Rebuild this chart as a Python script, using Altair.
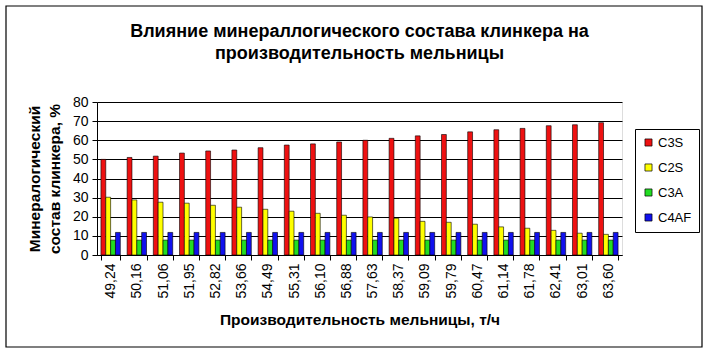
import altair as alt
import pandas as pd

productivity = ["49,24", "50,16", "51,06", "51,95", "52,82", "53,66", "54,49",
                "55,31", "56,10", "56,88", "57,63", "58,37", "59,09", "59,79",
                "60,47", "61,14", "61,78", "62,41", "63,01", "63,60"]
c3s = [50.0, 51.0, 51.7, 53.3, 54.4, 54.9, 56.1, 57.5, 58.1, 59.1,
       60.0, 61.0, 62.3, 63.0, 64.4, 65.5, 66.2, 67.6, 68.1, 69.2]
c2s = [30.2, 28.8, 27.6, 27.1, 26.0, 25.0, 23.9, 22.9, 21.8, 20.8,
       19.9, 19.2, 17.6, 17.1, 16.1, 14.7, 14.0, 12.9, 11.4, 10.8]
c3a = [7.8] * 20
c4af = [11.8] * 20
series = ["C3S", "C2S", "C3A", "C4AF"]
colors = ["#ee1111", "#ffff00", "#22dd22", "#1111ee"]

rows = []
for i, p in enumerate(productivity):
    for name, vals in zip(series, [c3s, c2s, c3a, c4af]):
        rows.append({"prod": p, "series": name, "value": vals[i]})
df = pd.DataFrame(rows)

FONT = "Liberation Sans"
PL, PT, W, H = 97, 102, 525, 153

bars = alt.Chart(df).mark_bar(stroke="black", strokeWidth=0.6).encode(
    x=alt.X("prod:N", sort=productivity,
            scale=alt.Scale(paddingInner=0.26, paddingOuter=0.15),
            axis=alt.Axis(title="Производительность мельницы, т/ч",
                          labelAngle=-90, labelFont=FONT, labelFontSize=14,
                          labelColor="black", labelPadding=3,
                          tickBand="extent", tickSize=5, tickColor="black",
                          domainColor="black", titleFont=FONT,
                          titleFontSize=15.5, titleFontWeight="bold",
                          titleColor="black", titlePadding=14)),
    xOffset=alt.XOffset("series:N", sort=series),
    y=alt.Y("value:Q", scale=alt.Scale(domain=[0, 80], nice=False),
            axis=alt.Axis(values=list(range(0, 81, 10)),
                          title=["Минералогический", "состав клинкера, %"],
                          labelFont=FONT, labelFontSize=14, labelColor="black",
                          labelPadding=4, tickSize=5, tickColor="black",
                          domainColor="black", gridColor="black",
                          gridOpacity=1, gridWidth=1,
                          titleFont=FONT, titleFontSize=15.5,
                          titleFontWeight="bold", titleColor="black",
                          titlePadding=10, titleLineHeight=20)),
    fill=alt.Fill("series:N", sort=series,
                  scale=alt.Scale(domain=series, range=colors),
                  legend=alt.Legend(title=None, orient="none",
                                    legendX=538, legendY=27,
                                    strokeColor="black", padding=7,
                                    symbolType="square", symbolSize=50,
                                    symbolStrokeColor="black",
                                    symbolStrokeWidth=0.7,
                                    labelFont=FONT, labelFontSize=13,
                                    labelColor="black", rowPadding=11,
                                    labelOffset=3)),
)

frame = alt.Chart(alt.Data(values=[{}])).mark_rect(
    fill=None, stroke="black", strokeWidth=1.2
).encode(
    x=alt.value(6 - PL), x2=alt.value(702 - PL),
    y=alt.value(6 - PT), y2=alt.value(347 - PT),
)

chart = alt.layer(bars, frame).properties(
    width=W, height=H,
    title=alt.Title(["Влияние минераллогического состава клинкера на",
                     "производительность мельницы"],
                    font=FONT, fontSize=18, fontWeight="bold",
                    color="black", lineHeight=22, offset=0, dy=58,
                    anchor="middle"),
    autosize=alt.AutoSizeParams(type="none"),
    padding={"left": PL, "top": PT, "right": 708 - PL - W,
             "bottom": 353 - PT - H},
).configure_view(stroke=None).configure(background="white")

chart.save("out.html", embed_options={"renderer": "svg", "actions": False})
